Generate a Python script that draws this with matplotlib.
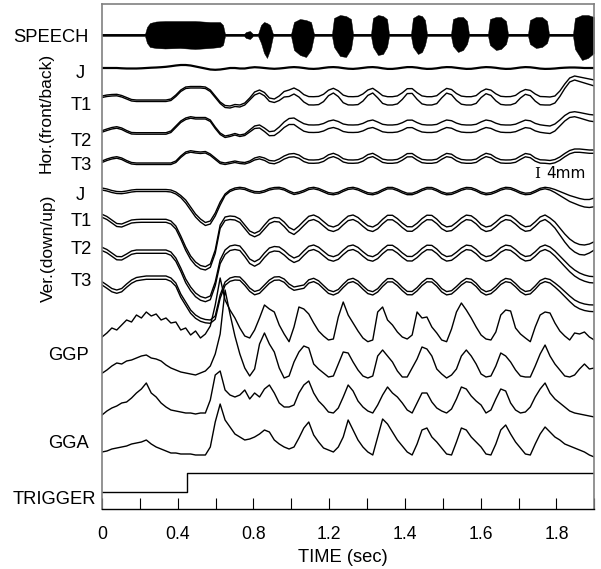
import numpy as np
import matplotlib
matplotlib.use("Agg")
import matplotlib.pyplot as plt

plt.rcParams['font.family'] = ['Liberation Sans', 'DejaVu Sans']

# ---- data -------------------------------------------------------------
# sample times of the articulator and EMG traces (axis units)
t_grid = np.arange(101) * 0.013

# speech envelope: times, upward and downward excursion
speech_t = [0, 0.1135, 0.1188, 0.1267, 0.1426, 0.1664, 0.206, 0.2456, 0.2852, 0.3116,
            0.3195, 0.3248, 0.375, 0.3802, 0.3908, 0.3987,
            0.4119, 0.4199, 0.4278, 0.4357, 0.4436, 0.4515,
            0.4991, 0.507, 0.5228, 0.5387, 0.5519, 0.5598,
            0.6073, 0.6126, 0.6285, 0.6443, 0.6575, 0.6628,
            0.7103, 0.7156, 0.7288, 0.742, 0.7526, 0.7579,
            0.8159, 0.8212, 0.8344, 0.845, 0.8529, 0.8582,
            0.9216, 0.9269, 0.9401, 0.9533, 0.9638, 0.9691,
            1.0193, 1.0245, 1.0404, 1.0536, 1.0668, 1.0721,
            1.1249, 1.1302, 1.146, 1.1619, 1.1751, 1.1804,
            1.2437, 1.249, 1.2675, 1.2833, 1.2992]
speech_up = [1, 1, 8, 12, 13.5, 14, 14, 14, 13, 13, 10, 1, 1, 3, 4, 1,
             1, 10, 13, 12, 10, 1, 1, 13, 16, 15, 13, 1,
             1, 17, 20, 19, 16, 1, 1, 17, 20, 19, 16, 1, 1, 17, 20, 19, 15, 1,
             1, 16, 18, 18, 14, 1, 1, 16, 18, 18, 14, 1, 1, 15, 18, 18, 14, 1,
             1, 17, 20, 20, 18]
speech_dn = [1, 1, 8, 12, 13, 13.5, 13, 14, 13, 12, 10, 1, 1, 3, 4, 1,
             1, 8, 18, 23, 15, 1, 1, 15, 20, 22, 15, 1,
             1, 12, 21, 22, 14, 1, 1, 12, 20, 19, 12, 1, 1, 12, 19, 17, 10, 1,
             1, 11, 17, 15, 9, 1, 1, 10, 15, 14, 9, 1, 1, 9, 13, 12, 8, 1,
             1, 14, 25, 23, 18]

# horizontal (front/back) movement, upper line of each pair
j_hor = [0, 0, 0, 0, -0.3, -0.5, -0.5, -0.5, -0.3, 0, 0.3, 0.5, 0.8,
         1.2, 1.8, 2.5, 3, 3, 2.5, 1.5, 0.5, -0.5, -1.5, -1.8, -1.5, -0.8, 0, 0, -0.5, -0.5, 0.3, 0.8, 0.5,
         0, -0.5, -0.8, -0.5, 0,
         0.6, 0.9, 0.6, 0, -0.7, -0.9, -0.6, 0.1, 0.7, 0.9, 0.6, -0.1, -0.7, -0.9, -0.5, 0.1, 0.7, 0.9, 0.5, -0.3,
         -0.9, -0.9, -0.4, 0.3, 0.9, 0.9, 0.4, -0.4, -0.9, -0.8, -0.3, 0.5, 0.9, 0.8, 0.2, -0.4, -0.9, -0.8, -0.2, 0.5,
         0.9, 0.7, 0.2, -0.5, -0.9, -0.8, -0.2, 0.5, 0.9, 0.7, 0.1, -0.6, -0.9,
         -0.8, -0.5, 0, 0.3, 0.5, 0.5, 0.3, 0, 0, 0]
t1_hor = [1, 2, 2.5, 2.7, 1.5, -0.5, -2.5, -3, -3, -3, -3, -3, -3, -3, -2, 2, 7, 10, 10.5, 10.5,
          10.5, 10, 7, 1, -5, -8.5, -9, -7.5, -8, -6, -1, 5, 7, 4.5, -1, -2, 1, 5.5,
          7, 9, 6.5,
          2.4, 0.4, 0.3, 0.6, 2.7, 6.8, 8.7, 6.2, 1.9, 0.4, 0.3, 0.6, 3.0, 7.0, 8.7, 5.3, 1.4, 0.3, 0.3, 1.1,
          4.2, 8.3, 8.4, 4.3, 1.1, 0.3, 0.3, 1.3, 5.3, 8.6, 7.5, 3.5, 0.9, 0.3, 0.3, 1.4, 5.5, 8.0, 6.9, 3.2,
          0.7, 0.3, 0.4, 1.6, 5.2, 7.5, 6.6, 3.0, 0.5, 0.3,
          0, 1, 6, 13, 19, 21, 20, 19, 18, 17]
t1_hor_gap = [1.5, 1.5, 1.5, 1.5, 1.5, 1.5, 1.5, 1.5, 1.5, 1.5, 1.5, 1.5, 1.5, 1.5, 1.5, 1.5, 1.5, 1.5, 1.5, 1.5,
              1.5, 1.5, 1.5, 1.5, 1.5, 2, 2, 2, 2, 2, 2, 3, 3, 3.3,
              3.3, 3.5, 4.5, 5.5, 6.5, 6.0, 6.5,
              7.4, 8.3, 8.3, 8.2, 7.3, 5.5, 4.7, 5.8, 7.6, 8.3, 8.3, 8.2, 7.1, 5.4, 4.7, 6.1, 7.8, 8.3, 8.3, 8.0,
              6.6, 4.9, 4.8, 6.6, 8.0, 8.3, 8.3, 7.9, 6.2, 4.7, 5.2, 6.9, 8.1, 8.3, 8.3, 7.8, 6.1, 4.7, 5.3, 7.0,
              8.1, 8.3, 8.3, 7.8, 6.2, 4.8, 5.3, 7.1, 8.2, 8.3,
              8, 7, 5.5, 4.5, 4, 4, 4.5, 5, 5.5, 6]
t2_hor = [0.3, 2, 3.5, 4.3, 3, 0.5, -1.5, -1.7, -1.7, -1.7, -1.7, -1.7, -1.7, -1.7, 0, 5, 10, 13, 14.3, 13.5,
          13.5, 13.5, 11, 4, -2, -5, -4, -2.5, -4, -3, 1, 5, 6, 3, -0.7, 0, 4, 9, 12.5, 13, 10,
          7.3, 6.1, 6, 6.2, 7.5, 9.9, 11, 9.5, 7, 6.1, 6, 6.2, 7.6, 10, 11, 9, 6.7, 6, 6, 6.5,
          8.3, 10.8, 10.9, 8.4, 6.5, 6, 6, 6.6, 9, 11, 10.3, 7.9, 6.4, 6, 6, 6.7, 9.1, 11, 10.1, 7.8,
          6.3, 6, 6, 6.8, 8.9, 10.9, 10.2, 7.6, 6.2, 5.5,
          5, 7, 11, 15.5, 18.5, 19.3, 18.5, 17.5, 16.5, 16]
t2_hor_gap = [1.5, 1.5, 1.5, 1.5, 1.5, 1.5, 1.5, 1.5, 1.5, 1.5, 1.5, 1.5, 1.5, 1.5, 1.5, 1.5, 1.5, 1.5, 1.5, 1.5,
              1.5, 1.5, 1.5, 1.5, 1.5, 1.5, 1.5, 1.5, 1.5, 1.5,
              2, 2.5, 3, 3.5, 4, 4.5, 5, 5.5, 6, 6.5, 7,
              7.5, 7.5, 7.5, 7.5, 7.5, 7.5, 7.5, 7.5, 7.5, 7.5, 7.5, 7.5, 7.5, 7.5, 7.5, 7.5, 7.5, 7.5, 7.5, 7.5,
              7.5, 7.5, 7.5, 7.5, 7.5, 7.5, 7.5, 7.5, 7.5, 7.5, 7.5, 7.5, 7.5, 7.5, 7.5, 7.5, 7.5, 7.5, 7.5, 7.5,
              7.5, 7.5, 7.5, 7.5, 7.5, 7.5, 7.5, 7.5, 7.5, 7.5,
              7.5, 7, 6, 5.5, 5, 5, 5.5, 6, 6.5, 6.7]
t3_hor = [0, 2, 3.5, 4.3, 3, 0.5, -1.5, -2, -2, -2, -2, -2, -2, -2, -2, 0, 5, 9, 10.3, 9.5,
          9, 9.5, 7, 3, -1, -2, -1, 0, -1, -1.5, 0, 3, 4.3, 3, 0.5, 0, 2, 5, 7, 7.5, 6,
          2.7, 1.1, 1, 1.3, 2.9, 6.2, 7.7, 5.7, 2.3, 1.1, 1, 1.3, 3.1, 6.4, 7.7, 5, 1.9, 1, 1, 1.6,
          4.1, 7.4, 7.5, 4.2, 1.6, 1, 1, 1.8, 5, 7.6, 6.8, 3.5, 1.5, 1, 1, 1.9, 5.2, 7.7, 6.5, 3.3,
          1.3, 1, 1.1, 2, 4.9, 7.5, 6.6, 3.1, 1.2, 1,
          0.5, 1.5, 4, 7.5, 10.5, 12, 12, 11.5, 11, 11]
t3_hor_gap = [1.5, 1.5, 1.5, 1.5, 1.5, 1.5, 1.5, 1.5, 1.5, 1.5, 1.5, 1.5, 1.5, 1.5, 1.5, 1.5, 1.5, 1.5, 1.5, 1.5,
              1.5, 1.5, 1.5, 1.5, 1.5, 1.5, 1.5, 1.5, 1.5, 1.5, 1.5,
              2, 2.2, 2.4, 2.6, 2.8, 3, 3.1, 3.2, 3.3, 3.3,
              3.3, 3.3, 3.3, 3.3, 3.3, 3.3, 3.3, 3.3, 3.3, 3.3, 3.3, 3.3, 3.3, 3.3, 3.3, 3.3, 3.3, 3.3, 3.3, 3.3,
              3.3, 3.3, 3.3, 3.3, 3.3, 3.3, 3.3, 3.3, 3.3, 3.3, 3.3, 3.3, 3.3, 3.3, 3.3, 3.3, 3.3, 3.3, 3.3, 3.3,
              3.3, 3.3, 3.3, 3.3, 3.3, 3.3, 3.3, 3.3, 3.3, 3.3, 3.3, 3.3, 3.3, 3.3, 3.3, 3.3, 3.3, 3.3, 3.3, 3.3]

# vertical (down/up) movement, upper line of each pair
j_ver = [0, -1, -2.5, -3.5, -3.7, -3, -2, -1.5, -1.5, -1.5, -1.5, -1.5, -1.5, -1.5, -2, -4, -7.5, -12, -19, -26,
         -31, -34.5, -33, -25, -14, -6, -2, 0, 0.7, 0, -2, -3.5, -3.7, -2.5, -0.5, 0.5, 0.7, -0.5, -3, -5, -4,
         -2.3, 0, 0.7, -0.4, -2.5, -4.6, -5.3, -4.3, -1.9, 0.1, 0.7, -0.5, -2.7, -4.7, -5.3, -4, -1.5, 0.6, 0.6, -1.1,
         -3.4, -5.2, -5.2, -3.5, -1.1, 0.6, 0.5, -1.4, -3.9, -5.3, -4.9, -3, -0.8, 0.6, 0.3, -1.5, -4, -5.3, -4.7, -2.9,
         -0.6, 0.7, 0.3, -1.6, -3.9, -5.2, -4.8, -2.7, -0.3, 0.7,
         0, -1.5, -3.5, -5.5, -7.5, -9, -10.5, -11.5, -11.5, -10]
j_ver_gap = [2, 2, 2, 2, 2, 2, 2, 2, 2, 2, 2, 2, 2, 2, 2, 2, 2, 3, 3, 3, 3, 3, 3, 3, 3,
             1.5, 1.5, 1.5, 1.5, 1.5, 1.5, 1.5, 1.5, 1.5, 1.5, 1.5, 1.5, 1.5, 1.5, 1.5, 1.5,
             1.5, 1.5, 1.5, 1.5, 1.5, 1.5, 1.5, 1.5, 1.5, 1.5, 1.5, 1.5, 1.5, 1.5, 1.5, 1.5, 1.5, 1.5, 1.5, 1.5,
             1.5, 1.5, 1.5, 1.5, 1.5, 1.5, 1.5, 1.5, 1.5, 1.5, 1.5, 1.5, 1.5, 1.5, 1.5, 1.5, 1.5, 1.5, 1.5, 1.5,
             1.5, 1.5, 1.5, 1.5, 1.5, 1.5, 1.5, 1.5, 1.5, 1.5,
             2, 3, 4, 5, 6, 6.5, 7, 7.5, 8, 8.7]
t1_ver = [1.7, -0.5, -4, -7.5, -8, -6, -4, -3.5, -3.3, -3.3, -3.3, -3.3, -3.3, -3.3, -5, -10, -20, -31, -40, -46,
          -49.5, -50.7, -48, -34, -9, -1, 0, -0.5, -3, -9, -15, -17.3, -15, -9, -3.5, -1.5, -2, -6, -11.5, -14, -10,
          -5, -0.3, 1, -1.3, -5.5, -9.6, -11, -9, -4.3, -0.1, 1, -1.5, -5.8, -9.7, -11, -8.3, -3.3, 0.7, 0.7, -2.6,
          -7.1, -10.7, -10.8, -7.3, -2.6, 0.8, 0.6, -3.1, -8.2, -10.9, -10.1, -6.4, -2.1, 0.9, 0.2, -3.4, -8.5, -11, -9.9, -6.1,
          -1.6, 0.9, 0.1, -3.6, -8.1, -10.8, -10, -5.8, -1, 1,
          -2, -6, -12, -18, -23, -26.5, -28.5, -29, -28, -25.7]
t1_ver_gap = [3, 3, 3, 3, 3, 3, 3, 3, 3, 3, 3, 3, 3, 3, 3, 3, 3, 3.3, 3.3, 3.3, 3.3, 3.3, 3.3, 3.3, 3.3,
              3.5, 3.5, 3.5, 3.5, 3.5, 3.5, 3.5, 3.5, 4, 4, 4, 4, 4.5, 4.5, 4.5, 4.5,
              4.5, 4.5, 4.5, 4.5, 4.5, 4.5, 4.5, 4.5, 4.5, 4.5, 4.5, 4.5, 4.5, 4.5, 4.5, 4.5, 4.5, 4.5, 4.5, 4.5,
              4.5, 4.5, 4.5, 4.5, 4.5, 4.5, 4.5, 4.5, 4.5, 4.5, 4.5, 4.5, 4.5, 4.5, 4.5, 4.5, 4.5, 4.5, 4.5, 4.5,
              4.5, 4.5, 4.5, 4.5, 4.5, 4.5, 4.5, 4.5, 4.5, 4.5,
              5, 6, 7, 8, 9, 9.5, 10, 10, 9, 8.3]
t2_ver = [0.7, -1.5, -5, -8.5, -8.7, -6, -3, -2, -2, -2, -2, -2, -2, -2, -4, -10, -20, -31, -39, -45,
          -48.5, -50, -48, -34, -12, -2, 2, 3, 2, -4, -11, -13.7, -11, -5, 0, 1.5, 1, -2.5, -7, -10, -8,
          -2.9, 1.7, 3, 0.8, -3.3, -7.3, -8.7, -6.8, -2.1, 1.9, 3, 0.6, -3.7, -7.5, -8.7, -6.1, -1.2, 2.7, 2.7, -0.5,
          -4.9, -8.4, -8.5, -5.1, -0.5, 2.8, 2.6, -1, -6, -8.6, -7.8, -4.2, 0, 2.9, 2.2, -1.3, -6.2, -8.7, -7.6, -4,
          0.4, 2.9, 2.1, -1.5, -5.9, -8.5, -7.7, -3.7, 1.1, 3,
          1, -3, -8, -13, -18, -22, -25, -27, -28.3, -28.7]
t2_ver_gap = [3.3, 3.3, 3.3, 3.3, 3.3, 3.3, 3.3, 3.3, 3.3, 3.3, 3.3, 3.3, 3.3, 3.3, 3.3, 3.3, 3.3,
              3.7, 3.7, 3.7, 3.7, 3.7, 3.7, 3.7, 3.7,
              4.5, 4.5, 4.5, 4.5, 4.5, 4.5, 4.5, 4.5, 4.5, 4.5, 4.5, 4.5, 4.5, 4.5, 4.5, 4.5,
              4.5, 4.5, 4.5, 4.5, 4.5, 4.5, 4.5, 4.5, 4.5, 4.5, 4.5, 4.5, 4.5, 4.5, 4.5, 4.5, 4.5, 4.5, 4.5, 4.5,
              4.5, 4.5, 4.5, 4.5, 4.5, 4.5, 4.5, 4.5, 4.5, 4.5, 4.5, 4.5, 4.5, 4.5, 4.5, 4.5, 4.5, 4.5, 4.5, 4.5,
              4.5, 4.5, 4.5, 4.5, 4.5, 4.5, 4.5, 4.5, 4.5, 4.5,
              4.7, 5, 5.2, 5.5, 5.7, 6, 6.1, 6.2, 6.3, 6.3]
t3_ver = [1.3, -2, -5.5, -7, -5.5, -1, 3, 5.5, 6.3, 7, 7, 7, 7, 7, 5, 0, -11, -19, -27, -32,
          -35, -36.5, -37, -33, -12, 1, 5, 6.3, 6, 1, -5, -8.5, -7, -2, 3, 6, 6.3, 4, -1, -4, -3,
          -2, 3.2, 4.7, 2.2, -2.5, -7.1, -8.7, -6.5, -1.2, 3.4, 4.7, 2, -2.9, -7.3, -8.7, -5.7, -0.1, 4.4, 4.4, 0.7,
          -4.3, -8.4, -8.5, -4.6, 0.7, 4.5, 4.3, 0.1, -5.6, -8.6, -7.7, -3.5, 1.3, 4.6, 3.8, -0.2, -5.9, -8.7, -7.4, -3.3,
          1.8, 4.6, 3.7, -0.5, -5.5, -8.5, -7.6, -2.9, 2.5, 4.7,
          3.5, 0, -4, -8.5, -13, -17, -19.5, -21, -21.8, -22]
t3_ver_gap = [3.3, 3.3, 3.3, 3.3, 3.3, 3.3, 3.3, 3.3, 3.3, 3.3, 3.3, 3.3, 3.3, 3.3, 3.3, 3.3, 3.3, 3.3, 3.3, 3.3,
              3.3, 3.3, 3.3, 3.3, 3.3, 3.3, 3.3, 3.3, 3.3, 3.3, 3.3, 3.3, 3.3, 3.3, 3.3, 3.3, 3.3, 3.3, 3.3, 3.3,
              3.3, 3.3, 3.3, 3.3, 3.3, 3.3, 3.3, 3.3, 3.3, 3.3, 3.3, 3.3, 3.3, 3.3, 3.3, 3.3, 3.3, 3.3, 3.3, 3.3,
              3.3, 3.3, 3.3, 3.3, 3.3, 3.3, 3.3, 3.3, 3.3, 3.3, 3.3, 3.3, 3.3, 3.3, 3.3, 3.3, 3.3, 3.3, 3.3, 3.3,
              3.3, 3.3, 3.3, 3.3, 3.3, 3.3, 3.3, 3.3, 3.3, 3.3, 3.3,
              3.5, 4, 4.5, 5, 5.5, 6, 6.3, 6.5, 6.6, 6.7]

# EMG (two GGP and two GGA channels)
ggp_1 = [0, 4, 9, 7, 12, 17, 15, 22, 19, 25, 21, 23, 17, 19, 14, 15, 7, 9, 2, 6,
         -1, 3, 11, 32, 59, 37, 27, 19, 9, 1, -1, 7, 19, 32, 28, 25, 12, 3, -4.7, 10,
         30, 28, 23, 14, 6, 1, -3, -2, 20, 35, 22, 14, 6, -1, -4.7, -3, 25, 30, 17, 12,
         5, 0, -2, 2, 25, 19, 20, 10, 4, -3, -4.7, 8, 25, 34, 27, 19, 10, 2, -2, -3,
         5, 22, 27, 26, 9, 3, -1, -4.7, 10, 22, 25, 24, 14, 6, 1, -3, 4, 3, 5, 0, -3]
ggp_2 = [0.7, 4, 8, 11, 10, 13, 14, 16, 18, 19, 16, 15, 13, 9, 6, 4, 2, 1, 0, -1,
         1, 3, 8, 20, 40, 84, 60, 38, 20, 6, -2, 5, 30, 41, 30, 22, 6, -4, -2, 12,
         22, 28, 26, 10, 5, 1, -3, -2, 10, 22, 21, 12, 4, -2, -4, -2, 18, 24, 18, 12,
         3, -3, -3, 6, 15, 27, 25, 18, 5, 0, -4, -1, 5, 18, 24, 18, 10, 0, -3, -2,
         8, 21, 18, 12, 4, -2, -3, -3, 8, 20, 29, 18, 10, 4, -2, -3, -1, 5, 10, 5, 6]
gga_1 = [0, 4, 7, 9, 12, 13, 17, 22, 26, 32, 22, 18, 12, 8, 5, 4, 3, 2, 2, 1,
         2, 2, 15, 40, 44, 25, 20, 18, 20, 25, 16, 22, 18, 26, 30, 22, 12, 8, 8, 10,
         22, 30, 34, 22, 14, 9, 3, 2, 7, 18, 30, 24, 14, 8, 4, 2, 10, 20, 28, 22,
         18, 12, 5, 2, 12, 22, 22, 13, 7, 4, 2, 6, 16, 28, 26, 19, 14, 10, 2, 5,
         16, 26, 24, 12, 5, 2, 3, 8, 18, 26, 32, 22, 16, 12, 8, 4, 2, 1, 0, -1, -2]
gga_2 = [0, 1, 3, 4, 5, 6, 8, 9, 10, 12, 8, 5, 3, 1, -1, -1, -2, -2, -2, -3,
         -3, -3, 5, 30, 48, 32, 25, 18, 15, 12, 13, 15, 18, 22, 20, 12, 8, 5, 3, 5,
         14, 24, 30, 17, 10, 4, 2, 0, 5, 15, 32, 22, 12, 5, 0, -3, 15, 33, 28, 20,
         12, 6, 0, -3, 8, 22, 24, 15, 10, 4, -2, -3, 10, 24, 22, 15, 10, 5, -2, -3,
         8, 22, 27, 18, 10, 4, -2, -3, 8, 18, 25, 20, 15, 12, 8, 6, 4, 2, 0, -3, -5]

# trigger channel (0 = low, 1 = high)
trigger_t = [0, 0.2237, 0.2237, 1.3]
trigger_level = [0, 0, 1, 1]

tick_labels = ['0', '', '0.4', '', '0.8', '', '1.2', '', '1.4', '', '1.6', '', '1.8', '']

# ---- layout (pixel rows of each channel's baseline) ----------------------
W, H = 601, 569
fig = plt.figure(figsize=(W / 100, H / 100), dpi=100)
ax = fig.add_axes([102 / W, 1 - 509 / H, (594.3 - 102) / W, (509 - 3.5) / H])
ax.set_xlim(0, 1.3)
ax.set_ylim(509, 3.5)

LW = 1.0
ax.fill_between(speech_t, 35 - np.array(speech_up), 35 + np.array(speech_dn),
                color='black', lw=0.3)
ax.plot([0, 1.3], [35, 35], color='black', lw=1.3)

ax.plot(t_grid, 68 - np.array(j_hor), color='black', lw=1.6)

pairs = [
    (t1_hor, t1_hor_gap, 97),
    (t2_hor, t2_hor_gap, 131),
    (t3_hor, t3_hor_gap, 161),
    (j_ver, j_ver_gap, 188),
    (t1_ver, t1_ver_gap, 216),
    (t2_ver, t2_ver_gap, 248),
    (t3_ver, t3_ver_gap, 283),
]
for upper, gap, base in pairs:
    upper = np.array(upper)
    gap = np.array(gap)
    ax.plot(t_grid, base - upper, color='black', lw=LW)
    ax.plot(t_grid, base - upper + gap, color='black', lw=LW)

for trace, base in [(ggp_1, 337), (ggp_2, 374), (gga_1, 415), (gga_2, 452)]:
    ax.plot(t_grid, base - np.array(trace), color='black', lw=LW)

ax.plot(trigger_t, 491.7 - 18.4 * np.array(trigger_level), color='black', lw=LW)

# axes styling
for side in ['left', 'top', 'right']:
    ax.spines[side].set_color('#808080')
    ax.spines[side].set_linewidth(1.2)
ax.spines['bottom'].set_color('black')
ax.spines['bottom'].set_linewidth(1.0)
ax.set_yticks([])
ax.set_xticks(np.arange(14) * 0.1)
ax.set_xticklabels(tick_labels)
ax.tick_params(axis='x', direction='in', length=8, width=0.8, pad=12, labelsize=12.7)


def px_text(x, y, s, ha='right', size=13.2, **kw):
    fig.text(x / W, 1 - y / H, s, ha=ha, va='center', fontsize=size, **kw)


px_text(89, 38, 'SPEECH')
px_text(80, 73, 'J', ha='center')
px_text(81, 106, 'T1', ha='center')
px_text(81, 142, 'T2', ha='center')
px_text(81, 166, 'T3', ha='center')
px_text(80, 195, 'J', ha='center')
px_text(81, 221, 'T1', ha='center')
px_text(81, 250, 'T2', ha='center')
px_text(81, 282, 'T3', ha='center')
px_text(89, 355, 'GGP')
px_text(89, 443, 'GGA')
px_text(96, 499, 'TRIGGER')
px_text(46, 113, 'Hor.(front/back)', ha='center', size=12.5, rotation=90)
px_text(48, 248, 'Ver.(down/up)', ha='center', size=12.5, rotation=90)
px_text(343, 557, 'TIME (sec)', ha='center')
px_text(534, 174, 'I', ha='left', size=11, family='DejaVu Serif')
px_text(546, 174, '4mm', ha='left', size=11, family='DejaVu Sans')

fig.savefig('out.png', dpi=100)
